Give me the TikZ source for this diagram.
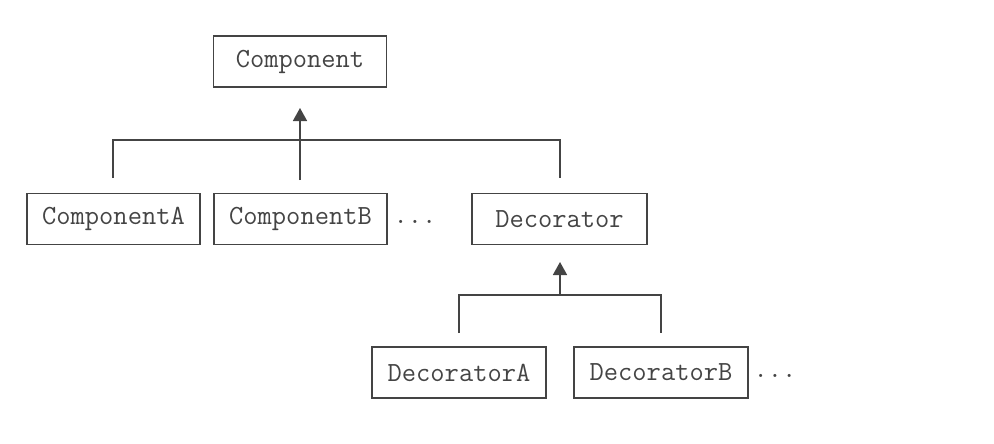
\documentclass[tikz,border=0pt]{standalone}
\usepackage{fontspec}
\usetikzlibrary{arrows.meta}
\definecolor{ink}{HTML}{444444}
\tikzset{
  cls/.style={draw=ink, line width=1.6pt, text=ink, font=\fontsize{27.7}{31}\selectfont\ttfamily,
    minimum width=173pt, minimum height=51pt, inner sep=0pt},
  dots/.style={text=ink, font=\fontsize{27.7}{31}\selectfont\ttfamily, inner sep=0pt},
  conn/.style={draw=ink, line width=1.6pt},
  inh/.style={draw=ink, line width=1.6pt, -{Triangle[length=13pt,width=14pt]}, shorten >=0pt}
}
\newcommand{\padr}{\hspace{14pt}}
\begin{document}
\begin{tikzpicture}[x=1pt,y=-1pt]
\useasboundingbox (0,0) rectangle (994,444);
\node[cls] (comp) at (300,61.5) {Component};
\node[cls] (ca) at (113.5,219) {ComponentA\padr};
\node[cls] (cb) at (300.5,219) {ComponentB\padr};
\node[dots] (d1) at (415,222) {...};
\node[cls, minimum width=175pt] (dec) at (559.5,219) {Decorator};
\node[cls, minimum width=174pt] (da) at (459,372.5) {DecoratorA\padr};
\node[cls, minimum width=174pt] (db) at (661,372.5) {DecoratorB\padr};
\node[dots] (d2) at (775,376) {...};
\coordinate (j1) at (300,140);
\coordinate (j2) at (560,295);
\coordinate (h1) at (300,108);
\coordinate (h2) at (560,262);
\coordinate (ta) at (113,178);
\coordinate (tb) at (300,180);
\coordinate (tc) at (560,178);
\coordinate (tda) at (459,333);
\coordinate (tdb) at (661,333);
\draw[conn] (ta) -- (ta |- j1) -- (tc |- j1) -- (tc);
\draw[conn] (tb) -- (j1);
\draw[inh] (j1) -- (h1);
\draw[conn] (tda) -- (tda |- j2) -- (tdb |- j2) -- (tdb);
\draw[inh] (j2) -- (h2);
\end{tikzpicture}
\end{document}
